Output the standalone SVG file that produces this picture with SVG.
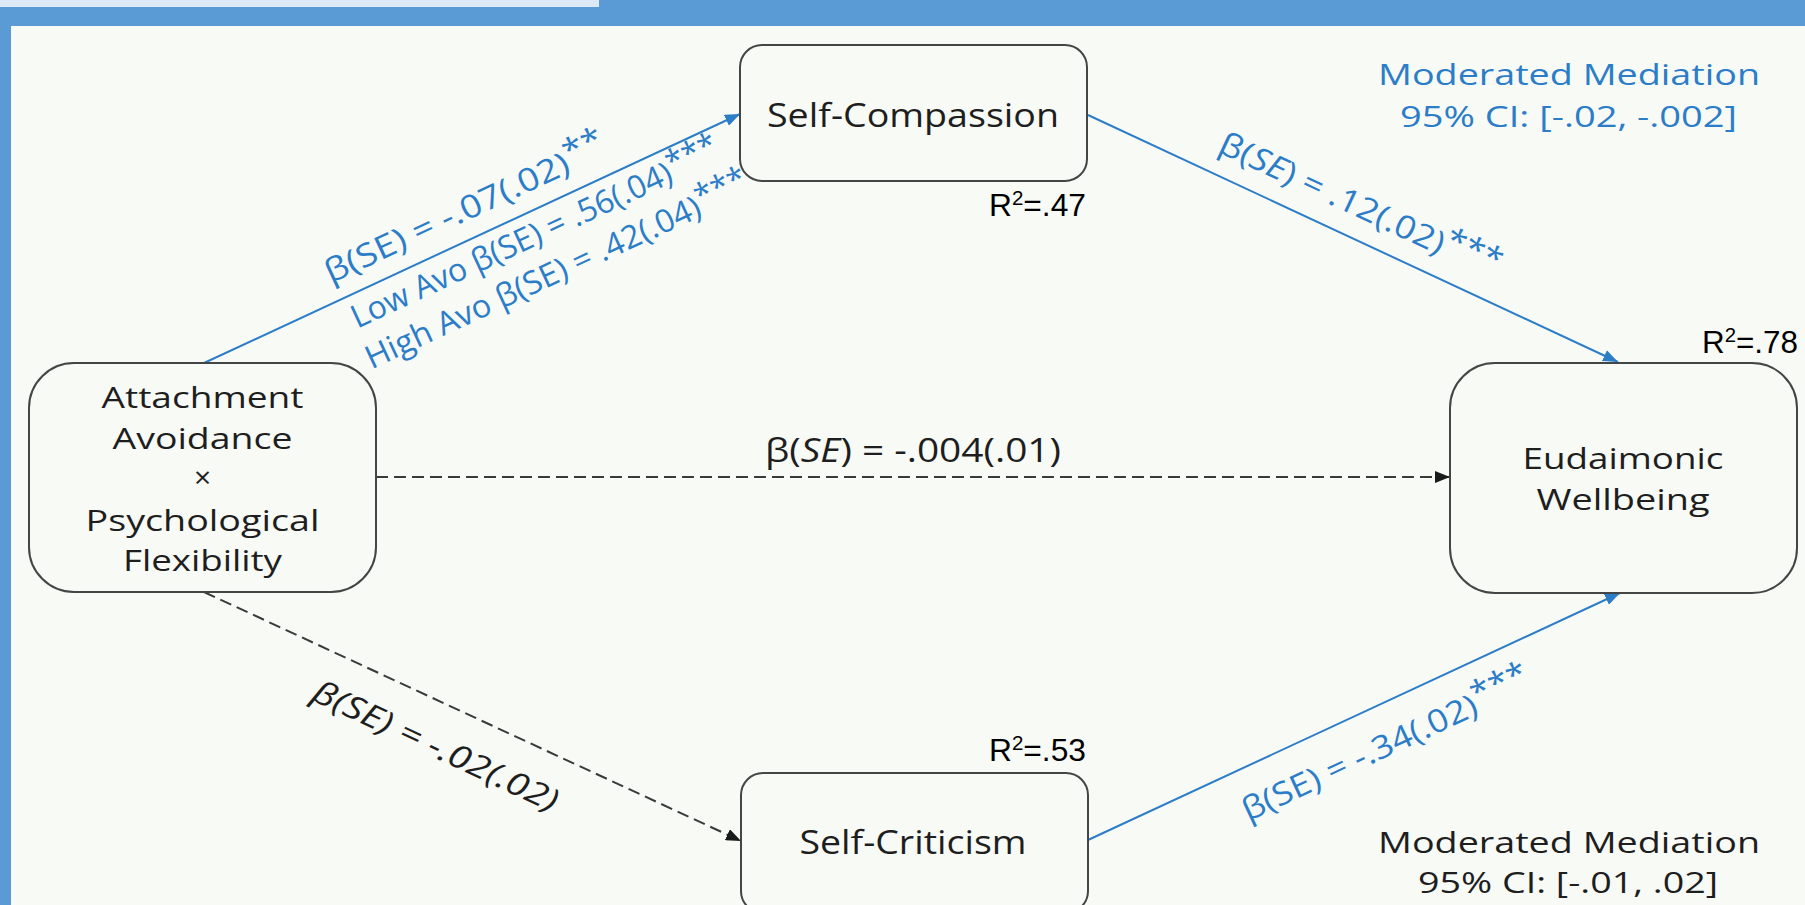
<svg xmlns="http://www.w3.org/2000/svg" width="1805" height="905" viewBox="0 0 1805 905">
  <style>
    .node { fill: #F8FAF6; stroke: #454545; stroke-width: 2; }
    .nlabel { font-family: "Open Sans", "Noto Sans", sans-serif; font-size: 33px; fill: #1E1E1E; text-anchor: middle; }
    .ml { font-size: 30px; }
    .r2 { font-family: "Liberation Sans", Arial, sans-serif; font-size: 31px; fill: #000; }
    .blue { stroke: #2C7DC8; stroke-width: 2; fill: none; }
    .dash { stroke: #3A3A3A; stroke-width: 2; fill: none; stroke-dasharray: 12 6; }
    .elab { font-family: "Open Sans", "Noto Sans", sans-serif; font-size: 32px; text-anchor: middle; }
    .elab-b { fill: #2C7DC8; }
    .elab-k { fill: #1E1E1E; }
    .note { font-family: "Open Sans", "Noto Sans", sans-serif; font-size: 30px; text-anchor: middle; }
  </style>
  <defs>
    <marker id="arrowBlue" markerUnits="userSpaceOnUse" markerWidth="16" markerHeight="12" refX="15" refY="6" orient="auto">
      <path d="M0,0 L15,6 L0,12 z" fill="#2C7DC8"/>
    </marker>
    <marker id="arrowBlack" markerUnits="userSpaceOnUse" markerWidth="16" markerHeight="12" refX="15" refY="6" orient="auto">
      <path d="M0,0 L15,6 L0,12 z" fill="#1A1A1A"/>
    </marker>
  </defs>

  <!-- frame and canvas -->
  <rect x="0" y="0" width="1805" height="905" fill="#5B9BD5"/>
  <rect x="0" y="0" width="599" height="7" fill="#DDE9F6"/>
  <rect x="11" y="26" width="1794" height="879" fill="#F8FAF6"/>

  <!-- connectors -->
  <g id="connectors">
    <line class="blue" x1="204" y1="363" x2="740" y2="114" marker-end="url(#arrowBlue)"/>
    <line class="blue" x1="1088" y1="115" x2="1618" y2="362" marker-end="url(#arrowBlue)"/>
    <line class="dash" x1="376" y1="477" x2="1450" y2="477" marker-end="url(#arrowBlack)"/>
    <line class="dash" x1="204" y1="592" x2="741" y2="841" marker-end="url(#arrowBlack)"/>
    <line class="blue" x1="1088" y1="840" x2="1620" y2="593" marker-end="url(#arrowBlue)"/>

    <!-- path coefficients -->
    <text class="elab elab-b" transform="translate(470,219) rotate(-24.9)" font-size="33" textLength="307" lengthAdjust="spacingAndGlyphs">β(SE) = -.07(.02)<tspan dy="-9">**</tspan></text>
    <text class="elab elab-b" transform="translate(540,244) rotate(-24.9)" font-size="29" textLength="403" lengthAdjust="spacingAndGlyphs">Low Avo β(SE) = .56(.04)<tspan dy="-8">***</tspan></text>
    <text class="elab elab-b" transform="translate(562,281) rotate(-24.9)" font-size="29" textLength="420" lengthAdjust="spacingAndGlyphs">High Avo β(SE) = .42(.04)<tspan dy="-8">***</tspan></text>
    <text class="elab elab-b" transform="translate(1355,216) rotate(25)" font-size="33" textLength="305" lengthAdjust="spacingAndGlyphs">β(<tspan font-style="italic">SE</tspan>) = .12(.02)<tspan dy="-9">***</tspan></text>
    <text class="elab elab-k" x="913" y="462" textLength="296" lengthAdjust="spacingAndGlyphs">β(<tspan font-style="italic">SE</tspan>) = -.004(.01)</text>
    <text class="elab elab-k" transform="translate(431,756) rotate(25.05)" font-size="33" font-style="italic" textLength="267" lengthAdjust="spacingAndGlyphs">β(SE) = -.02(.02)</text>
    <text class="elab elab-b" transform="translate(1391,755) rotate(-25)" font-size="33" textLength="315" lengthAdjust="spacingAndGlyphs">β(SE) = -.34(.02)<tspan dy="-9">***</tspan></text>
  </g>

  <g id="node-attachment">
    <rect class="node" x="29" y="363" width="347" height="229" rx="45" ry="45"/>
    <text class="nlabel ml" x="202.5" y="408" textLength="202" lengthAdjust="spacingAndGlyphs">Attachment</text>
    <text class="nlabel ml" x="202.5" y="449" textLength="180" lengthAdjust="spacingAndGlyphs">Avoidance</text>
    <text class="nlabel ml" x="202.5" y="488">×</text>
    <text class="nlabel ml" x="202.5" y="531" textLength="234" lengthAdjust="spacingAndGlyphs">Psychological</text>
    <text class="nlabel ml" x="202.5" y="571" textLength="159" lengthAdjust="spacingAndGlyphs">Flexibility</text>
  </g>

  <g id="node-self-compassion">
    <rect class="node" x="740" y="45" width="347" height="136" rx="22" ry="22"/>
    <text class="nlabel" x="913" y="127" font-size="35" textLength="292" lengthAdjust="spacingAndGlyphs">Self-Compassion</text>
    <text class="r2" x="989" y="216" textLength="97" lengthAdjust="spacingAndGlyphs">R<tspan dy="-11" font-size="20">2</tspan><tspan dy="11">=.47</tspan></text>
  </g>

  <g id="node-self-criticism">
    <rect class="node" x="741" y="773" width="347" height="140" rx="22" ry="22"/>
    <text class="nlabel" x="913" y="854" font-size="35" textLength="227" lengthAdjust="spacingAndGlyphs">Self-Criticism</text>
    <text class="r2" x="989" y="761" textLength="97" lengthAdjust="spacingAndGlyphs">R<tspan dy="-11" font-size="20">2</tspan><tspan dy="11">=.53</tspan></text>
  </g>

  <g id="node-eudaimonic">
    <rect class="node" x="1450" y="363" width="347" height="230" rx="45" ry="45"/>
    <text class="nlabel ml" x="1623" y="469" textLength="201" lengthAdjust="spacingAndGlyphs">Eudaimonic</text>
    <text class="nlabel ml" x="1623" y="510" textLength="173" lengthAdjust="spacingAndGlyphs">Wellbeing</text>
    <text class="r2" x="1702" y="353" textLength="96" lengthAdjust="spacingAndGlyphs">R<tspan dy="-11" font-size="20">2</tspan><tspan dy="11">=.78</tspan></text>
  </g>

  <g id="note-compassion-mediation">
    <text class="note" x="1569" y="85" fill="#2C7DC8" textLength="382" lengthAdjust="spacingAndGlyphs">Moderated Mediation</text>
    <text class="note" x="1568.5" y="127" fill="#2C7DC8" textLength="337" lengthAdjust="spacingAndGlyphs">95% CI: [-.02, -.002]</text>
  </g>

  <g id="note-criticism-mediation">
    <text class="note" x="1569" y="853" fill="#1E1E1E" textLength="382" lengthAdjust="spacingAndGlyphs">Moderated Mediation</text>
    <text class="note" x="1568" y="893" fill="#1E1E1E" textLength="300" lengthAdjust="spacingAndGlyphs">95% CI: [-.01, .02]</text>
  </g>
</svg>
